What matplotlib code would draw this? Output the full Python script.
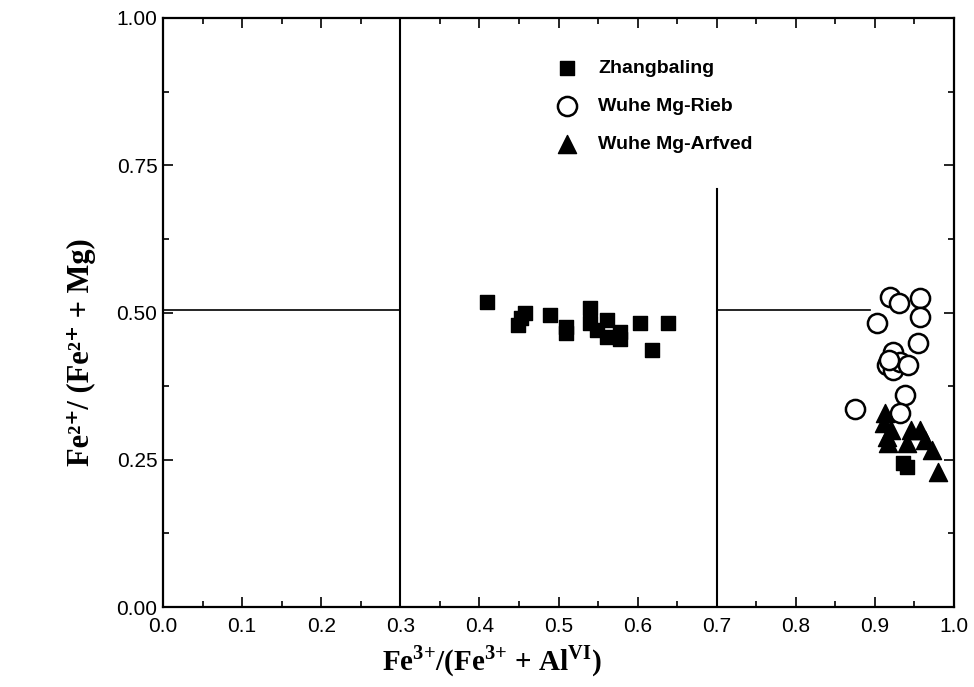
import numpy as np
import matplotlib.pyplot as plt
from matplotlib.ticker import MultipleLocator, FormatStrFormatter

# Zhangbaling (squares)
zb_x = [0.409, 0.449, 0.453, 0.458, 0.489, 0.510, 0.510, 0.540, 0.540, 0.548,
        0.561, 0.561, 0.578, 0.578, 0.603, 0.618, 0.638, 0.935, 0.940]
zb_y = [0.518, 0.479, 0.490, 0.499, 0.496, 0.476, 0.465, 0.507, 0.482, 0.470,
        0.487, 0.459, 0.467, 0.455, 0.482, 0.436, 0.482, 0.245, 0.237]

# Wuhe Mg-Rieb (open circles)
rieb_x = [0.919, 0.931, 0.957, 0.957, 0.903, 0.954, 0.923, 0.915, 0.923, 0.932,
          0.942, 0.918, 0.938, 0.875, 0.932]
rieb_y = [0.527, 0.516, 0.524, 0.493, 0.483, 0.448, 0.433, 0.411, 0.403, 0.416,
          0.411, 0.420, 0.360, 0.337, 0.329]

# Wuhe Mg-Arfved (filled triangles)
arf_x = [0.913, 0.911, 0.915, 0.917, 0.920, 0.940, 0.946, 0.957, 0.963, 0.972, 0.980]
arf_y = [0.329, 0.312, 0.289, 0.278, 0.300, 0.278, 0.300, 0.300, 0.284, 0.267, 0.230]

# field boundaries
vlines = [(0.3, 0.0, 1.0), (0.7, 0.0, 0.71)]
hlines = [(0.505, 0.0, 0.3), (0.505, 0.7, 0.894)]

plt.rcParams['mathtext.fontset'] = 'custom'
plt.rcParams['mathtext.rm'] = 'Liberation Serif:bold'
plt.rcParams['mathtext.bf'] = 'Liberation Serif:bold'

fig = plt.figure(figsize=(9.74, 6.87), dpi=100)
ax = fig.add_axes([0.1674, 0.1164, 0.8121, 0.8574])

for x, y0, y1 in vlines:
    ax.plot([x, x], [y0, y1], color='black', lw=1.5)
for y, x0, x1 in hlines:
    ax.plot([x0, x1], [y, y], color='black', lw=1.2)

ax.scatter(zb_x, zb_y, marker='s', s=110, color='black', label='Zhangbaling', zorder=3)
ax.scatter(rieb_x, rieb_y, marker='o', s=190, facecolors='white', edgecolors='black',
           linewidths=1.8, label='Wuhe Mg-Rieb', zorder=3)
ax.scatter(arf_x, arf_y, marker='^', s=170, color='black', label='Wuhe Mg-Arfved', zorder=4)

ax.set_xlim(0, 1.0)
ax.set_ylim(0, 1.0)
ax.xaxis.set_major_locator(MultipleLocator(0.1))
ax.xaxis.set_minor_locator(MultipleLocator(0.05))
ax.yaxis.set_major_locator(MultipleLocator(0.25))
ax.yaxis.set_minor_locator(MultipleLocator(0.125))
ax.xaxis.set_major_formatter(FormatStrFormatter('%.1f'))
ax.yaxis.set_major_formatter(FormatStrFormatter('%.2f'))
ax.tick_params(which='both', direction='in', top=True, right=True, width=1.2)
ax.tick_params(which='major', length=7, labelsize=15)
ax.tick_params(axis='x', which='major', pad=7)
ax.tick_params(axis='y', which='major', pad=4)
ax.tick_params(which='minor', length=4)
for lab in ax.get_xticklabels() + ax.get_yticklabels():
    lab.set_family('Liberation Sans')
for s in ax.spines.values():
    s.set_linewidth(1.6)

ax.set_xlabel(r'Fe$^{3\text{+}}$/(Fe$^{3\text{+}}$ + Al$^{\rm VI}$)',
              family='Liberation Serif', fontweight='bold', fontsize=21)
ax.set_ylabel('Fe²⁺/ (Fe²⁺ + Mg)', family=['Liberation Serif', 'DejaVu Serif'],
              fontweight='bold', fontsize=22)
ax.xaxis.set_label_coords(0.415, -0.062)
ax.yaxis.set_label_coords(-0.085, 0.433)

leg = ax.legend(loc='upper left', bbox_to_anchor=(0.464, 0.96), frameon=False,
                prop={'family': 'Liberation Sans', 'weight': 'bold', 'size': 14},
                handletextpad=0.6, labelspacing=1.05, scatterpoints=1)

fig.savefig('out.png', dpi=100)
